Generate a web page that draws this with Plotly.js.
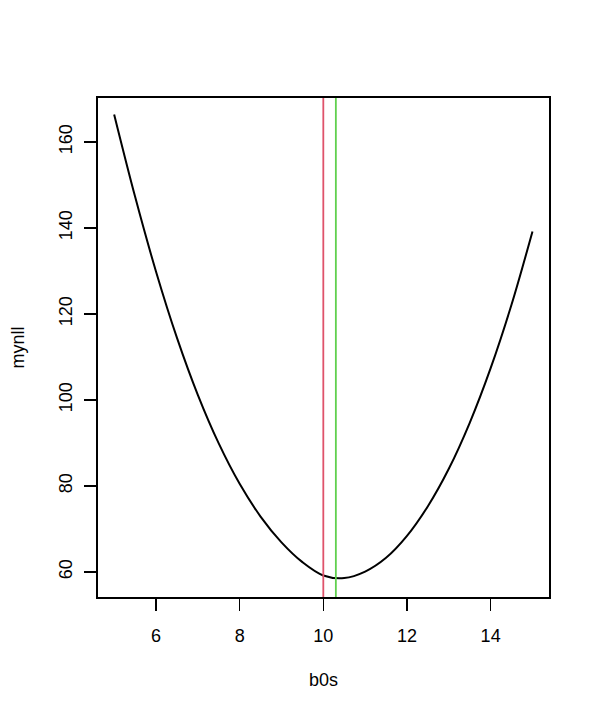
<!DOCTYPE html>
<html>
<head>
<meta charset="utf-8">
<script src="https://cdn.plot.ly/plotly-3.0.1.min.js"></script>
<style>html,body{margin:0;padding:0;background:#fff;}#chart{width:600px;height:720px;}</style>
</head>
<body>
<div id="chart"></div>
<script>
// Values
var b0s = [5.0, 5.5, 6.0, 6.5, 7.0, 7.5, 8.0, 8.5, 9.0, 9.5, 10.0, 10.5, 11.0, 11.5, 12.0, 12.5, 13.0, 13.5, 14.0, 14.5, 15.0];
var mynll = [166.4, 147.3, 129.9, 114.5, 101.2, 89.9, 80.5, 72.9, 66.9, 62.3, 59.2, 58.6, 60.1, 63.3, 68.4, 75.3, 84.0, 94.7, 107.4, 122.2, 139.2];
var vlineX = [10.0, 10.3];
var vlineColors = ['#DF536B', '#61D04F'];
var xTicks = [6, 8, 10, 12, 14];
var yTicks = [60, 80, 100, 120, 140, 160];
var xTitle = 'b0s';
var yTitle = 'mynll';

var font = {family: '"Liberation Sans", Arial, sans-serif', size: 18, color: '#000'};

var traces = [{
  x: b0s, y: mynll, type: 'scatter', mode: 'lines',
  line: {color: '#000', width: 2, shape: 'spline', smoothing: 1},
  hoverinfo: 'skip', showlegend: false
}];

var shapes = vlineX.map(function (v, i) {
  return {type: 'line', xref: 'x', yref: 'paper', x0: v, x1: v, y0: 0, y1: 1,
    line: {color: vlineColors[i], width: 1.8}, layer: 'above'};
});

var layout = {
  width: 600, height: 720,
  margin: {l: 98, r: 50.5, t: 98, b: 122.7, pad: 0},
  paper_bgcolor: '#fff', plot_bgcolor: '#fff',
  font: font,
  showlegend: false,
  shapes: shapes,
  xaxis: {
    range: [4.614, 15.395], tickvals: xTicks, ticktext: xTicks.map(String),
    ticks: 'outside', ticklen: 12, tickwidth: 1.5, tickcolor: '#000',
    showline: true, mirror: true, linecolor: '#000', linewidth: 1.8,
    showgrid: false, zeroline: false, tickfont: font, ticklabelstandoff: 10,
    title: {text: xTitle, font: font, standoff: 28}
  },
  yaxis: {
    range: [54.19, 170.23], tickvals: yTicks, ticktext: yTicks.map(String),
    tickangle: -90,
    ticks: 'outside', ticklen: 12, tickwidth: 1.5, tickcolor: '#000',
    showline: true, mirror: true, linecolor: '#000', linewidth: 1.8,
    showgrid: false, zeroline: false, tickfont: font, ticklabelstandoff: 5,
    title: {text: yTitle, font: font, standoff: 27}
  }
};

Plotly.newPlot('chart', traces, layout, {displayModeBar: false, staticPlot: true});
</script>
</body>
</html>
